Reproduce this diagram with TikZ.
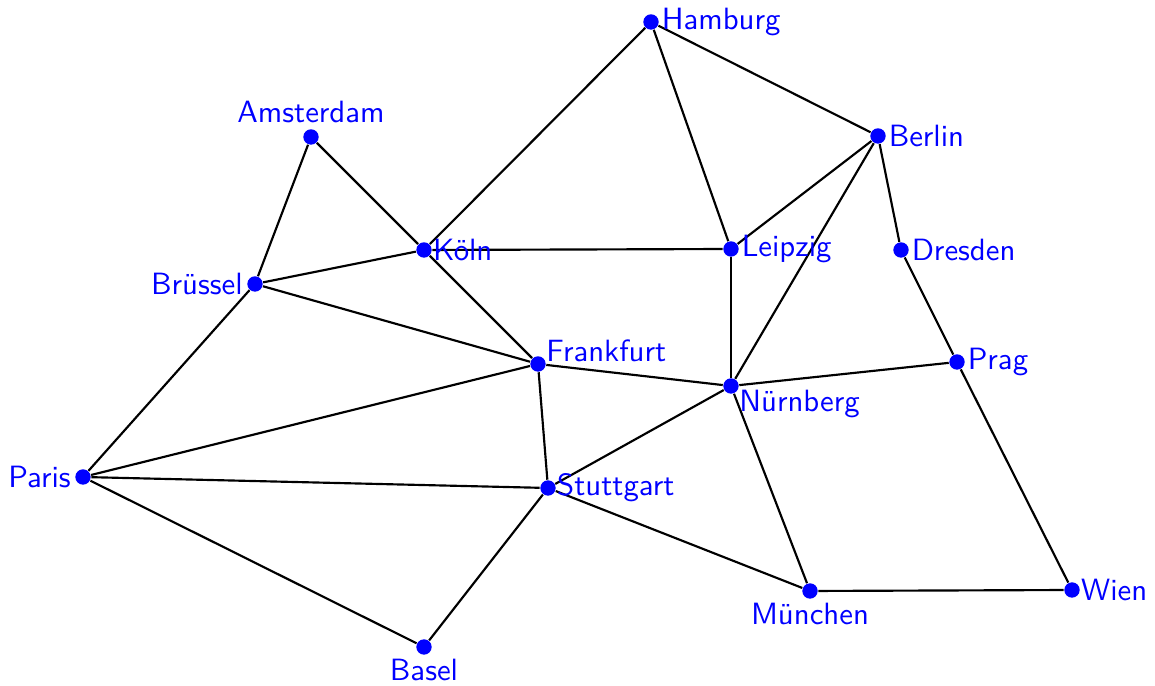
\documentclass[tikz,border=0pt]{standalone}
\usetikzlibrary{backgrounds}
\begin{document}
\begin{tikzpicture}[x=0.325pt,y=-0.325pt,
  city/.style={circle,fill=blue,inner sep=0pt,minimum size=5pt},
  lbl/.style={text=blue,font=\sffamily,inner sep=0.6pt},
  edge/.style={line width=0.7pt,black}]
\useasboundingbox (0,0) rectangle (1155,686);
\node[city] (hh) at (651,22) {};
\node[city] (am) at (311,137) {};
\node[city] (be) at (878,136) {};
\node[city] (kn) at (424,250) {};
\node[city] (le) at (731,249) {};
\node[city] (dr) at (901,250) {};
\node[city] (br) at (255,284) {};
\node[city] (ff) at (538,364) {};
\node[city] (pr) at (957,362) {};
\node[city] (nu) at (731,386) {};
\node[city] (pa) at (83,477) {};
\node[city] (st) at (548,488) {};
\node[city] (mu) at (810,591) {};
\node[city] (wi) at (1072,590) {};
\node[city] (ba) at (424,647) {};
\begin{scope}[on background layer]
\begin{scope}[edge]
\draw (hh) -- (kn);
\draw (hh) -- (le);
\draw (hh) -- (be);
\draw (am) -- (kn);
\draw (am) -- (br);
\draw (be) -- (le);
\draw (be) -- (nu);
\draw (be) -- (dr);
\draw (kn) -- (le);
\draw (kn) -- (br);
\draw (kn) -- (ff);
\draw (br) -- (ff);
\draw (br) -- (pa);
\draw (le) -- (nu);
\draw (dr) -- (pr);
\draw (ff) -- (nu);
\draw (ff) -- (pa);
\draw (ff) -- (st);
\draw (nu) -- (pr);
\draw (nu) -- (st);
\draw (nu) -- (mu);
\draw (pr) -- (wi);
\draw (pa) -- (st);
\draw (pa) -- (ba);
\draw (st) -- (ba);
\draw (st) -- (mu);
\draw (mu) -- (wi);
\end{scope}
\end{scope}
\node[lbl,anchor=west] (lhh) at (hh.east) {Hamburg};
\node[lbl,anchor=south] (lam) at ([yshift=1pt]am.north) {Amsterdam};
\node[lbl,anchor=west] (lbe) at (be.east) {Berlin};
\node[lbl,anchor=west] (lkn) at ([xshift=-0.5pt]kn.east) {Köln};
\node[lbl,anchor=west] (lle) at (le.east) {Leipzig};
\node[lbl,anchor=west] (ldr) at (dr.east) {Dresden};
\node[lbl,anchor=east] (lbr) at ([xshift=-0.5pt]br.west) {Brüssel};
\node[lbl,anchor=south west] (lff) at ([yshift=-2pt]ff.north east) {Frankfurt};
\node[lbl,anchor=west] (lpr) at (pr.east) {Prag};
\node[lbl,anchor=north west] (lnu) at ([yshift=1.5pt]nu.south east) {Nürnberg};
\node[lbl,anchor=east] (lpa) at ([xshift=-0.5pt]pa.west) {Paris};
\node[lbl,anchor=west] (lst) at ([xshift=-0.5pt]st.east) {Stuttgart};
\node[lbl,anchor=north] (lmu) at ([yshift=-0.5pt]mu.south) {München};
\node[lbl,anchor=west] (lwi) at ([xshift=-0.5pt]wi.east) {Wien};
\node[lbl,anchor=north] (lba) at ([yshift=-0.5pt]ba.south) {Basel};
\end{tikzpicture}
\end{document}
